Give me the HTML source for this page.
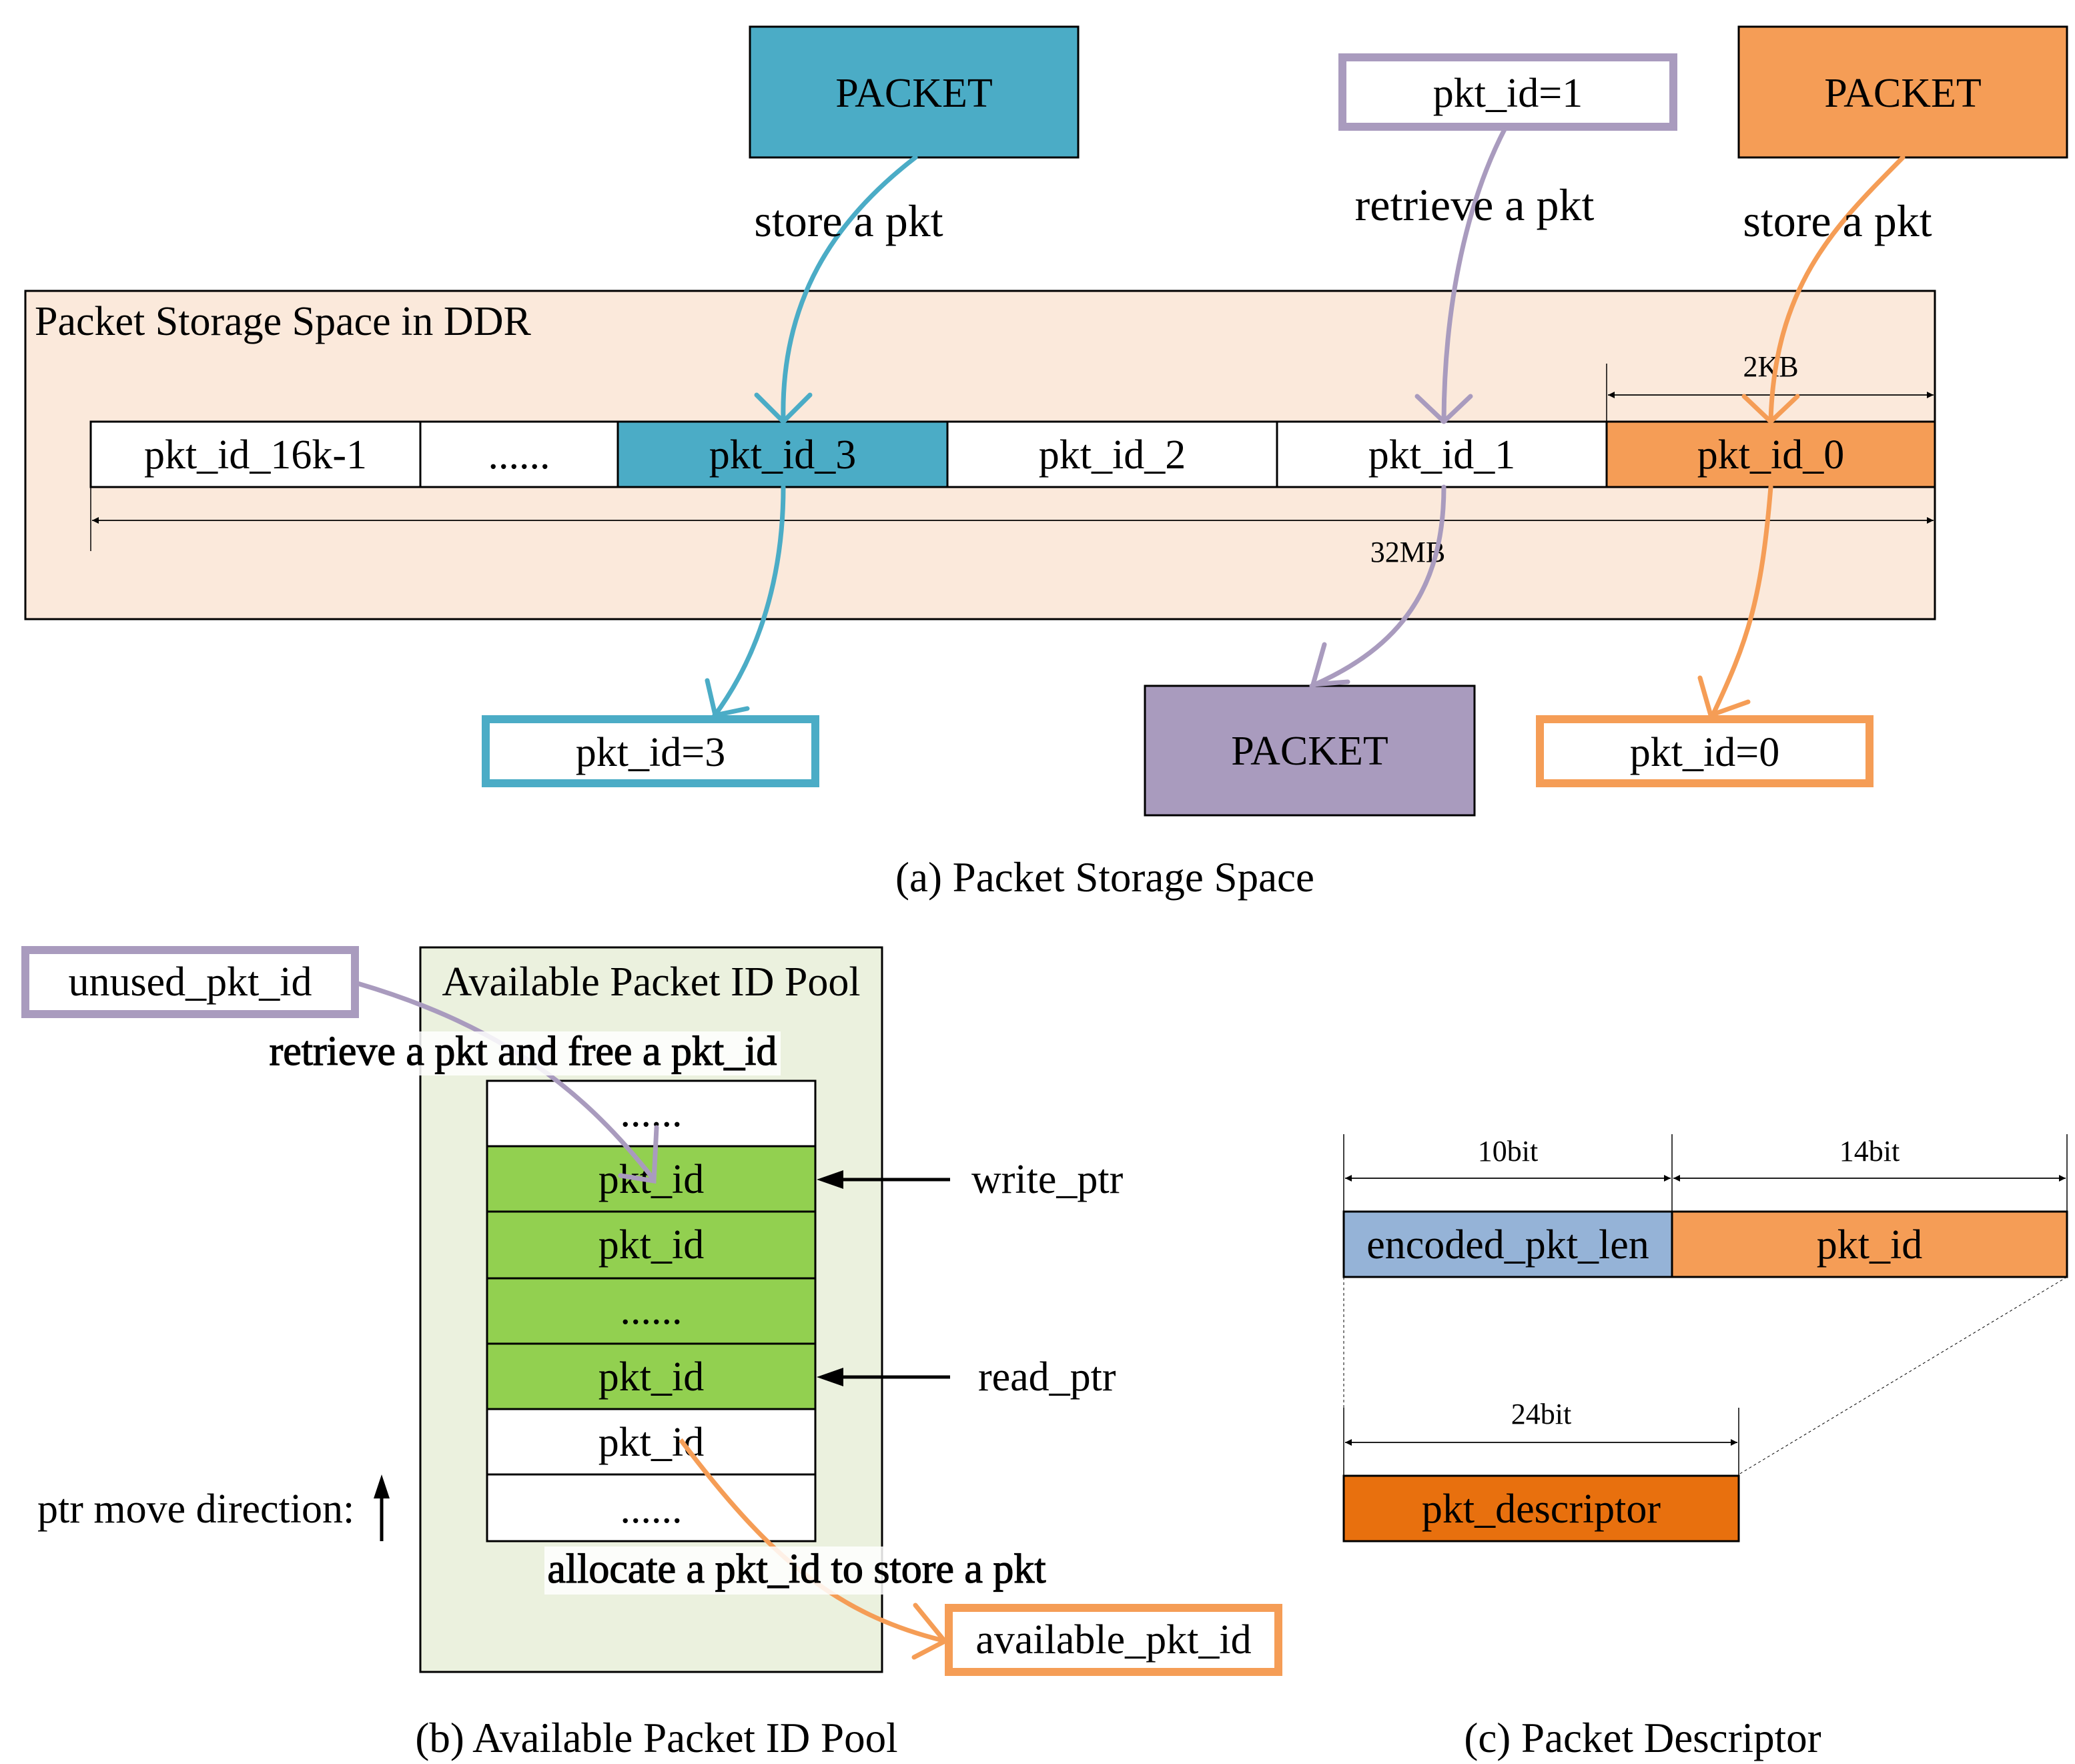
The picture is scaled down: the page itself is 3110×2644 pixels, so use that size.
<!DOCTYPE html>
<html><head><meta charset="utf-8"><style>html,body{margin:0;padding:0;background:#fff}svg{display:block}</style></head><body>
<svg width="3110" height="2644" viewBox="0 0 3110 2644" xmlns="http://www.w3.org/2000/svg" font-family="Liberation Serif, serif">
<defs>
<marker id="ah" markerWidth="10" markerHeight="10" refX="10" refY="5" orient="auto" markerUnits="userSpaceOnUse"><path d="M0,0 L10,5 L0,10z" fill="#000"/></marker>
</defs>
<!-- Part a -->
<rect x="1124" y="40" width="492" height="196" fill="#4BACC6" stroke="#000" stroke-width="3"/>
<text x="1370" y="160" font-size="62" text-anchor="middle">PACKET</text>
<rect x="2012" y="86" width="496" height="104" fill="#fff" stroke="#A99BBE" stroke-width="12"/>
<text x="2260" y="160" font-size="62" text-anchor="middle">pkt_id=1</text>
<rect x="2606" y="40" width="492" height="196" fill="#F59D56" stroke="#000" stroke-width="3"/>
<text x="2852" y="160" font-size="62" text-anchor="middle">PACKET</text>

<rect x="38" y="436" width="2862" height="492" fill="#FBE9DB" stroke="#000" stroke-width="3"/>
<text x="52" y="502" font-size="62">Packet Storage Space in DDR</text>

<g stroke="#000" stroke-width="3">
<rect x="136" y="632" width="494" height="98" fill="#fff"/>
<rect x="630" y="632" width="296" height="98" fill="#fff"/>
<rect x="926" y="632" width="494" height="98" fill="#4BACC6"/>
<rect x="1420" y="632" width="494" height="98" fill="#fff"/>
<rect x="1914" y="632" width="494" height="98" fill="#fff"/>
<rect x="2408" y="632" width="492" height="98" fill="#F59D56"/>
</g>
<g font-size="62" text-anchor="middle">
<text x="383" y="702">pkt_id_16k-1</text>
<text x="778" y="702">......</text>
<text x="1173" y="702">pkt_id_3</text>
<text x="1667" y="702">pkt_id_2</text>
<text x="2161" y="702">pkt_id_1</text>
<text x="2654" y="702">pkt_id_0</text>
</g>
<g stroke="#000" stroke-width="1.5">
<line x1="2408" y1="545" x2="2408" y2="632"/>
<line x1="2410" y1="592" x2="2898" y2="592" marker-end="url(#ah)"/>
<line x1="2898" y1="592" x2="2410" y2="592" marker-end="url(#ah)"/>
<line x1="136" y1="730" x2="136" y2="826"/>
<line x1="138" y1="780" x2="2898" y2="780" marker-end="url(#ah)"/>
<line x1="2898" y1="780" x2="138" y2="780" marker-end="url(#ah)"/>
</g>
<text x="2654" y="564" font-size="44" text-anchor="middle">2KB</text>
<text x="2110" y="842" font-size="44" text-anchor="middle">32MB</text>

<rect x="728" y="1078" width="494" height="96" fill="#fff" stroke="#4BACC6" stroke-width="12"/>
<text x="975" y="1148" font-size="62" text-anchor="middle">pkt_id=3</text>
<rect x="1716" y="1028" width="494" height="194" fill="#A99BBE" stroke="#000" stroke-width="3"/>
<text x="1963" y="1146" font-size="62" text-anchor="middle">PACKET</text>
<rect x="2308" y="1078" width="494" height="96" fill="#fff" stroke="#F59D56" stroke-width="12"/>
<text x="2555" y="1148" font-size="62" text-anchor="middle">pkt_id=0</text>

<g fill="none" stroke-width="7" stroke-linecap="round" stroke-linejoin="round">
<path d="M1372,236 C1250,330 1170,450 1174,630" stroke="#4BACC6"/>
<path d="M1134,592 L1174,632 L1214,592" stroke="#4BACC6"/>
<path d="M1174,730 C1174,860 1140,980 1070,1074" stroke="#4BACC6"/>
<path d="M1060,1020 L1072,1072 L1120,1062" stroke="#4BACC6"/>
<path d="M2256,192 C2200,300 2165,450 2164,630" stroke="#A99BBE"/>
<path d="M2124,594 L2164,632 L2204,594" stroke="#A99BBE"/>
<path d="M2164,730 C2164,880 2100,970 1966,1028" stroke="#A99BBE"/>
<path d="M1985,966 L1968,1026 L2020,1022" stroke="#A99BBE"/>
<path d="M2852,236 C2760,330 2660,420 2654,630" stroke="#F59D56"/>
<path d="M2614,594 L2654,632 L2694,594" stroke="#F59D56"/>
<path d="M2654,730 C2640,900 2620,960 2566,1074" stroke="#F59D56"/>
<path d="M2548,1016 L2564,1072 L2620,1052" stroke="#F59D56"/>
</g>
<g font-size="68" text-anchor="middle">
<text x="1272" y="354">store a pkt</text>
<text x="2210" y="330">retrieve a pkt</text>
<text x="2754" y="354">store a pkt</text>
</g>
<text x="1656" y="1336" font-size="63" text-anchor="middle">(a) Packet Storage Space</text>

<!-- Part b -->
<rect x="38" y="1424" width="494" height="96" fill="#fff" stroke="#A99BBE" stroke-width="12"/>
<text x="285" y="1492" font-size="62" text-anchor="middle">unused_pkt_id</text>
<rect x="630" y="1420" width="692" height="1086" fill="#EBF1DE" stroke="#000" stroke-width="3"/>
<text x="976" y="1492" font-size="62" text-anchor="middle">Available Packet ID Pool</text>
<g stroke="#000" stroke-width="3">
<rect x="730" y="1620" width="492" height="98" fill="#fff"/>
<rect x="730" y="1718" width="492" height="98" fill="#92D050"/>
<rect x="730" y="1816" width="492" height="100" fill="#92D050"/>
<rect x="730" y="1916" width="492" height="98" fill="#92D050"/>
<rect x="730" y="2014" width="492" height="98" fill="#92D050"/>
<rect x="730" y="2112" width="492" height="98" fill="#fff"/>
<rect x="730" y="2210" width="492" height="100" fill="#fff"/>
</g>
<g font-size="62" text-anchor="middle">
<text x="976" y="1688">......</text>
<text x="976" y="1788">pkt_id</text>
<text x="976" y="1886">pkt_id</text>
<text x="976" y="1984">......</text>
<text x="976" y="2084">pkt_id</text>
<text x="976" y="2182">pkt_id</text>
<text x="976" y="2282">......</text>
</g>
<path d="M536,1474 C760,1540 880,1640 980,1768" fill="none" stroke="#A99BBE" stroke-width="7"/>
<path d="M984,1690 L980,1770 L930,1762" fill="none" stroke="#A99BBE" stroke-width="7" stroke-linecap="round"/>
<rect x="398" y="1546" width="772" height="66" fill="#fff" fill-opacity="0.85"/>
<text x="784" y="1596" font-size="62" text-anchor="middle" stroke="#000" stroke-width="1.2">retrieve a pkt and free a pkt_id</text>
<path d="M1020,2158 C1150,2330 1250,2420 1418,2460" fill="none" stroke="#F59D56" stroke-width="7"/>
<path d="M1372,2406 L1416,2460 L1370,2484" fill="none" stroke="#F59D56" stroke-width="7" stroke-linecap="round"/>
<rect x="816" y="2318" width="756" height="72" fill="#fff" fill-opacity="0.85"/>
<text x="1194" y="2372" font-size="62" text-anchor="middle" stroke="#000" stroke-width="1.2">allocate a pkt_id to store a pkt</text>
<rect x="1422" y="2410" width="494" height="96" fill="#fff" stroke="#F59D56" stroke-width="12"/>
<text x="1669" y="2478" font-size="62" text-anchor="middle">available_pkt_id</text>

<g stroke="#000" stroke-width="5">
<line x1="1424" y1="1768" x2="1260" y2="1768"/>
<line x1="1424" y1="2064" x2="1260" y2="2064"/>
<line x1="572" y1="2310" x2="572" y2="2240"/>
</g>
<path d="M1224,1768 L1264,1754 L1264,1782z M1224,2064 L1264,2050 L1264,2078z M572,2210 L560,2246 L584,2246z" fill="#000"/>
<text x="1456" y="1788" font-size="62">write_ptr</text>
<text x="1466" y="2084" font-size="62">read_ptr</text>
<text x="56" y="2282" font-size="62">ptr move direction:</text>
<text x="984" y="2626" font-size="63" text-anchor="middle">(b) Available Packet ID Pool</text>

<!-- Part c -->
<g stroke="#000" stroke-width="1.5">
<line x1="2014" y1="1700" x2="2014" y2="1816"/>
<line x1="2506" y1="1700" x2="2506" y2="1816"/>
<line x1="3098" y1="1700" x2="3098" y2="1816"/>
<line x1="2016" y1="1766" x2="2504" y2="1766" marker-end="url(#ah)"/>
<line x1="2504" y1="1766" x2="2016" y2="1766" marker-end="url(#ah)"/>
<line x1="2508" y1="1766" x2="3096" y2="1766" marker-end="url(#ah)"/>
<line x1="3096" y1="1766" x2="2508" y2="1766" marker-end="url(#ah)"/>
<line x1="2014" y1="2110" x2="2014" y2="2212"/>
<line x1="2606" y1="2110" x2="2606" y2="2212"/>
<line x1="2016" y1="2162" x2="2604" y2="2162" marker-end="url(#ah)"/>
<line x1="2604" y1="2162" x2="2016" y2="2162" marker-end="url(#ah)"/>
<line x1="2014" y1="1914" x2="2014" y2="2212" stroke-dasharray="4,4" stroke-width="1"/>
<line x1="3098" y1="1914" x2="2606" y2="2210" stroke-dasharray="4,4" stroke-width="1"/>
</g>
<g font-size="44" text-anchor="middle">
<text x="2260" y="1740">10bit</text>
<text x="2802" y="1740">14bit</text>
<text x="2310" y="2134">24bit</text>
</g>
<rect x="2014" y="1816" width="492" height="98" fill="#95B3D7" stroke="#000" stroke-width="3"/>
<rect x="2506" y="1816" width="592" height="98" fill="#F59D56" stroke="#000" stroke-width="3"/>
<rect x="2014" y="2212" width="592" height="98" fill="#E8700E" stroke="#000" stroke-width="3"/>
<g font-size="62" text-anchor="middle">
<text x="2260" y="1886">encoded_pkt_len</text>
<text x="2802" y="1886">pkt_id</text>
<text x="2310" y="2282">pkt_descriptor</text>
</g>
<text x="2462" y="2626" font-size="63" text-anchor="middle">(c) Packet Descriptor</text>
</svg>
</body></html>
